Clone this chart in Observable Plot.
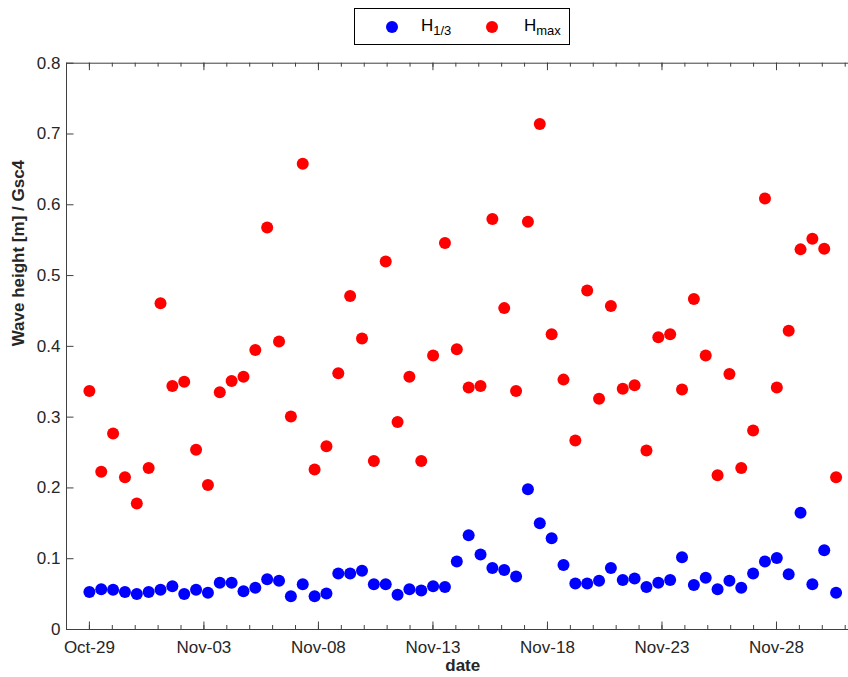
<!DOCTYPE html>
<html>
<head>
<meta charset="utf-8">
<script src="https://cdn.jsdelivr.net/npm/d3@7"></script>
<script src="https://cdn.jsdelivr.net/npm/@observablehq/plot@0.6"></script>
<style>
  html, body { margin: 0; padding: 0; background: #fff; overflow: hidden; }
  #wrap { position: relative; width: 848px; height: 677px; font-family: "Liberation Sans", Arial, sans-serif; color: #000; }
  #legend-area { position: relative; width: 848px; height: 50px; }
  #legend { position: absolute; left: 354px; top: 8px; width: 214px; height: 35px; border: 1px solid #000; background: #fff; box-sizing: content-box; }
  #legend .sw { position: absolute; width: 12px; height: 12px; border-radius: 50%; top: 12px; }
  #legend .lab { position: absolute; top: 8px; font-size: 17px; line-height: 17px; white-space: nowrap; }
  #legend .lab sub { font-size: 13px; position: relative; top: 4px; vertical-align: baseline; }
  #chart svg { display: block; }
</style>
</head>
<body>
<div id="wrap">
  <div id="legend-area"><div id="legend"></div></div>
  <div id="chart"></div>
</div>
<script>
// Sampling year (not shown on the axis)
const year = 2013;

// Observation times, one per semidiurnal tide (month-day hour:minute)
const times = [
  "10-29 00:00","10-29 12:25","10-30 00:50","10-30 13:16","10-31 01:41","10-31 14:06",
  "11-01 02:31","11-01 14:56","11-02 03:22","11-02 15:47","11-03 04:12","11-03 16:37",
  "11-04 05:02","11-04 17:28","11-05 05:53","11-05 18:18","11-06 06:43","11-06 19:08",
  "11-07 07:34","11-07 19:59","11-08 08:24","11-08 20:49","11-09 09:14","11-09 21:40",
  "11-10 10:05","11-10 22:30","11-11 10:55","11-11 23:20","11-12 11:46","11-13 00:11",
  "11-13 12:36","11-14 01:01","11-14 13:26","11-15 01:52","11-15 14:17","11-16 02:42",
  "11-16 15:07","11-17 03:32","11-17 15:58","11-18 04:23","11-18 16:48","11-19 05:13",
  "11-19 17:38","11-20 06:04","11-20 18:29","11-21 06:54","11-21 19:19","11-22 07:44",
  "11-22 20:10","11-23 08:35","11-23 21:00","11-24 09:25","11-24 21:50","11-25 10:16",
  "11-25 22:41","11-26 11:06","11-26 23:31","11-27 11:56","11-28 00:22","11-28 12:47",
  "11-29 01:12","11-29 13:37","11-30 02:02","11-30 14:28"
];

// Significant wave height H1/3 [m]
const hSig = [
  0.053,0.057,0.056,0.053,0.050,0.053,0.056,0.061,0.050,0.056,0.052,0.066,
  0.066,0.054,0.059,0.071,0.069,0.047,0.064,0.047,0.051,0.079,0.079,0.083,
  0.064,0.064,0.049,0.057,0.055,0.061,0.060,0.096,0.133,0.106,0.087,0.084,
  0.075,0.198,0.150,0.129,0.091,0.065,0.065,0.069,0.087,0.070,0.072,0.060,
  0.066,0.070,0.102,0.063,0.073,0.057,0.069,0.059,0.079,0.096,0.101,0.078,
  0.165,0.064,0.112,0.052
];

// Maximum wave height Hmax [m]
const hMax = [
  0.337,0.223,0.277,0.215,0.178,0.228,0.461,0.344,0.350,0.254,0.204,0.335,
  0.351,0.357,0.395,0.568,0.407,0.301,0.658,0.226,0.259,0.362,0.471,0.411,
  0.238,0.520,0.293,0.357,0.238,0.387,0.546,0.396,0.342,0.344,0.580,0.454,
  0.337,0.576,0.714,0.417,0.353,0.267,0.479,0.326,0.457,0.340,0.345,0.253,
  0.413,0.417,0.339,0.467,0.387,0.218,0.361,0.228,0.281,0.609,0.342,0.422,
  0.537,0.552,0.538,0.215
];

// Axis limits and ticks
const xStart = "10-28 00:00";
const xEnd = "12-01 14:28";
const majorTickDays = ["10-29","11-03","11-08","11-13","11-18","11-23","11-28"];
const minorTickFirst = "10-28", minorTickLast = "12-01";
const yTicks = [0, 0.1, 0.2, 0.3, 0.4, 0.5, 0.6, 0.7, 0.8];
const yLimits = [0, 0.8];

const seriesNames = ["1/3", "max"];
const seriesColors = ["#0000ff", "#ff0000"];

const parseTime = d3.utcParse("%Y-%m-%d %H:%M");
const parseDay = d3.utcParse("%Y-%m-%d");
const t = s => parseTime(`${year}-${s}`);
const day = s => parseDay(`${year}-${s}`);

const rows = times.map((s, i) => ({date: t(s), h13: hSig[i], hmax: hMax[i]}));
const majorTicks = majorTickDays.map(day);
const minorTicks = d3.utcDay.range(day(minorTickFirst), d3.utcDay.offset(day(minorTickLast), 1));

// Layout
const W = 848, H = 627;
const mL = 66, mR = -10.5, mT = 12.7, mB = 48;
const innerW = W - mL - mR, innerH = H - mT - mB;
const axisColor = "#404040";
const majorLen = 7.5, minorLen = 4;

const chart = Plot.plot({
  width: W,
  height: H,
  marginLeft: mL,
  marginRight: mR,
  marginTop: mT,
  marginBottom: mB,
  style: {fontFamily: "'Liberation Sans', Arial, sans-serif", fontSize: "17px", color: "#262626", background: "#fff"},
  x: {type: "utc", domain: [t(xStart), t(xEnd)], label: null},
  y: {domain: yLimits, label: null},
  marks: [
    Plot.dot(rows, {x: "date", y: "h13", r: 6, fill: seriesColors[0], stroke: "none"}),
    Plot.dot(rows, {x: "date", y: "hmax", r: 6, fill: seriesColors[1], stroke: "none"}),
    // inward ticks on all four sides
    Plot.tickX(minorTicks, {x: d => d, insetBottom: innerH - minorLen, stroke: axisColor}),
    Plot.tickX(minorTicks, {x: d => d, insetTop: innerH - minorLen, stroke: axisColor}),
    Plot.tickX(majorTicks, {x: d => d, insetBottom: innerH - majorLen, stroke: axisColor}),
    Plot.tickX(majorTicks, {x: d => d, insetTop: innerH - majorLen, stroke: axisColor}),
    Plot.tickY(yTicks, {y: d => d, insetRight: innerW - majorLen, stroke: axisColor}),
    Plot.tickY(yTicks, {y: d => d, insetLeft: innerW - majorLen, stroke: axisColor}),
    Plot.frame({stroke: axisColor}),
    Plot.axisX(majorTicks, {tickSize: 0, tickPadding: 11, tickFormat: d3.utcFormat("%b-%d"), fontSize: 17, fill: "#262626"}),
    Plot.axisY(yTicks, {tickSize: 0, tickPadding: 6, tickFormat: d => d === 0 ? "0" : d.toFixed(1), fontSize: 17, fill: "#262626"}),
    Plot.text(["Wave height [m] / Gsc4"], {frameAnchor: "left", rotate: -90, dx: -48, fontSize: 17, fontWeight: "bold", fill: "#262626"}),
    Plot.text(["date"], {frameAnchor: "bottom", dy: 41, fontSize: 17, fontWeight: "bold", fill: "#262626"})
  ]
});
document.getElementById("chart").appendChild(chart);

// Legend above the axes
const legend = d3.select("#legend");
const swLeft = [31, 131], labLeft = [66, 169];
seriesNames.forEach((name, i) => {
  legend.append("span").attr("class", "sw").style("left", swLeft[i] + "px").style("background", seriesColors[i]);
  const lab = legend.append("span").attr("class", "lab").style("left", labLeft[i] + "px");
  lab.append("span").text("H");
  lab.append("sub").text(name);
});
</script>
</body>
</html>
